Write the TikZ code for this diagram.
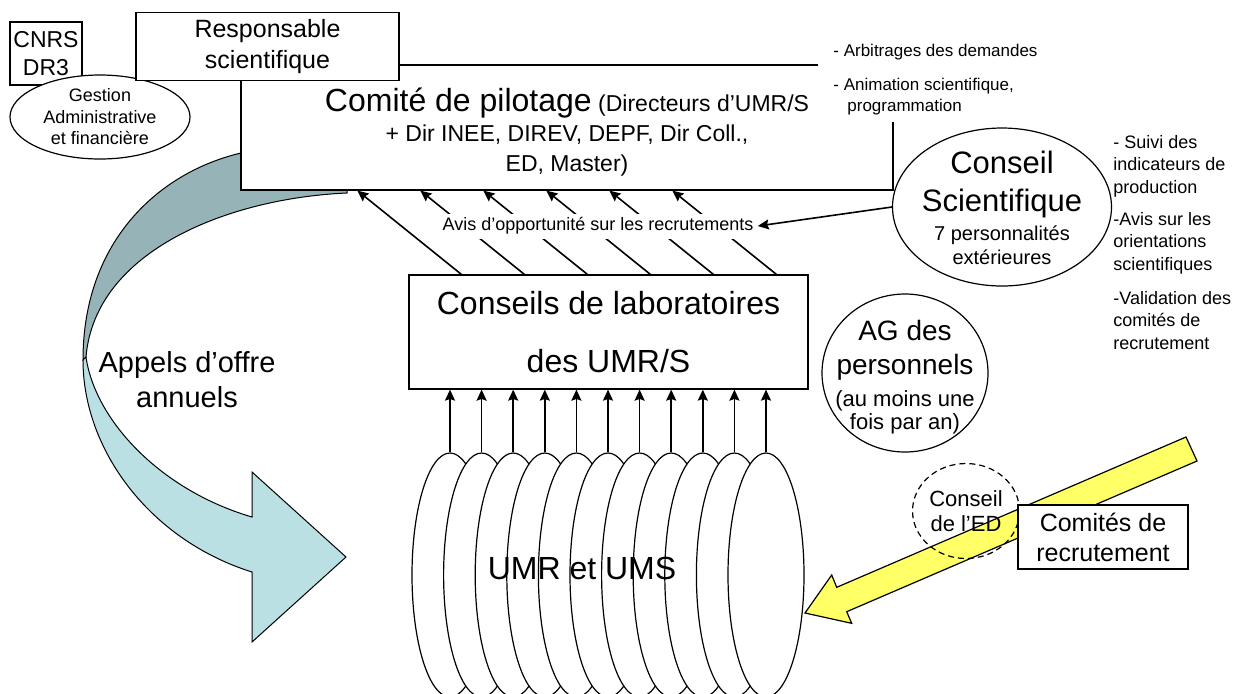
\documentclass[tikz,border=0pt]{standalone}
\usepackage{fontspec}
\setmainfont{Liberation Sans}
\usetikzlibrary{positioning,shapes.geometric,arrows,arrows.meta,calc}
\definecolor{appelsfonce}{RGB}{150,180,184}
\definecolor{appelsclair}{RGB}{186,224,228}
\definecolor{jaune}{RGB}{255,255,102}
\newcommand{\fsz}[2]{\fontsize{#1}{#2}\selectfont}

\begin{document}
\begin{tikzpicture}[x=0.5pt,y=-0.5pt]
\tikzstyle{box} = [rectangle, draw=black, line width=0.6pt, fill=white, inner sep=0pt]
\tikzstyle{oval} = [ellipse, draw=black, line width=0.6pt, fill=white, inner sep=0pt]
\tikzstyle{txt} = [align=center, inner sep=0pt]
\tikzstyle{arrow} = [thick,->,>={Stealth[length=5.5pt,width=5pt,inset=0.8pt]}]
\useasboundingbox (0,0) rectangle (1247,693);

% appels d'offre (fleche courbe)
\filldraw[fill=appelsfonce, line width=0.5pt] (241,153) .. controls (160,172) and (83,240) .. (83,360)
  -- (86,357) .. controls (95,250) and (230,198) .. (347,193) -- (347,150) -- cycle;
\filldraw[fill=appelsclair, line width=0.5pt] (83,360) .. controls (83,450) and (150,540) .. (252,572)
  -- (252,642) -- (346,557) -- (252,472) -- (252,517) .. controls (160,490) and (95,420) .. (86,357) -- cycle;
\node (appels) [txt, font=\fsz{14.5}{17.5}] at (187,380) {Appels d’offre\\annuels};

% CNRS et gestion
\node (cnrs) [box, minimum width=36pt, minimum height=31.5pt, align=center, font=\fsz{11.5}{14}] at (46,53.5) {CNRS\\DR3};
\node (gestion) [oval, minimum width=90pt, minimum height=42pt] at (100,117) {};
\node (gestionlabel) [txt, font=\fsz{9}{10.75}] at (gestion) {Gestion\\Administrative\\et financière};

% comite de pilotage
\node (pilot) [box, minimum width=326pt, minimum height=62.5pt] at (567,127.5) {};
\node (pilotlabel) [txt, font=\fsz{11.5}{15}] at (567,132) {{\fsz{16}{15}Comité de pilotage} (Directeurs d’UMR/S\\+ Dir INEE, DIREV, DEPF, Dir Coll.,\\ED, Master)};
\node (resp) [box, minimum width=131.5pt, minimum height=34pt, align=center, font=\fsz{12.5}{15.5}] at (267.5,46.5) {Responsable\\scientifique};
\node (missions) [fill=white, inner xsep=7.5pt, inner ysep=3.5pt, anchor=north west, align=left, font=\fsz{8.5}{10.5}] at (818,37) {- Arbitrages des demandes\\[6.5pt]- Animation scientifique,\\\hspace*{7pt}programmation};

% conseil scientifique
\node (sci) [oval, minimum width=109.5pt, minimum height=79pt] at (1002,207) {};
\node (scititle) [txt, font=\fsz{15.5}{19}] at (1002,184) {Conseil\\Scientifique};
\node (scimembers) [txt, font=\fsz{10}{12}] at (1002,245) {7 personnalités\\extérieures};
\node (scitasks) [anchor=north west, inner sep=0pt, align=left, font=\fsz{9}{11.25}] at (1113,135) {- Suivi des\\indicateurs de\\production\\[4.75pt]-Avis sur les\\orientations\\scientifiques\\[5.75pt]-Validation des\\comités de\\recrutement};

% conseils de laboratoires
\node (labo) [box, minimum width=199.5pt, minimum height=57pt, align=center, font=\fsz{16}{29}] at (608.5,332) {Conseils de laboratoires\\des UMR/S};
\foreach \i in {0,...,5}
  \draw [arrow] ($(labo.north west)+(53+63*\i,0)$) -- ($(pilot.south west)+(117+63*\i,0)$);
\node (avis) [fill=white, inner sep=2pt, font=\fsz{9}{11}] at (598,226) {Avis d’opportunité sur les recrutements};
\draw [arrow] (sci.west) -- (avis.east);

% AG des personnels
\node (ag) [oval, minimum width=83pt, minimum height=79pt] at (905,373) {};
\node (agtitle) [txt, font=\fsz{14}{17}] at (905,350) {AG des\\personnels};
\node (agnote) [txt, font=\fsz{11}{11.5}] at (905,412) {(au moins une\\fois par an)};

% UMR et UMS
\foreach \i in {0,...,10}
  \node (umr\i) [oval, minimum width=38pt, minimum height=122pt] at ({450+31.6*\i},575) {};
\foreach \i in {0,...,10}
  \draw [arrow] (umr\i.north) -- (umr\i.north |- labo.south);
\node (umrlabel) [inner sep=0pt, font=\fsz{16}{19}] at (582,568) {UMR et UMS};

% recrutement
\filldraw[fill=jaune, line width=0.6pt] (1186,437) -- (836.7,587.3) -- (831.7,575) -- (805,613) -- (851.7,623.3) -- (846.7,611.7) -- (1197,461) -- cycle;
\node (ed) [ellipse, draw, dash pattern=on 3pt off 2pt, line width=0.6pt, minimum width=53.5pt, minimum height=47.5pt, inner sep=0pt] at (966,511) {};
\node (edlabel) [txt, font=\fsz{11}{12.5}] at (ed) {Conseil\\de l’ED};
\node (comites) [box, minimum width=85pt, minimum height=32pt, align=center, font=\fsz{12.5}{15}] at (1103,537) {Comités de\\recrutement};
\end{tikzpicture}
\end{document}
